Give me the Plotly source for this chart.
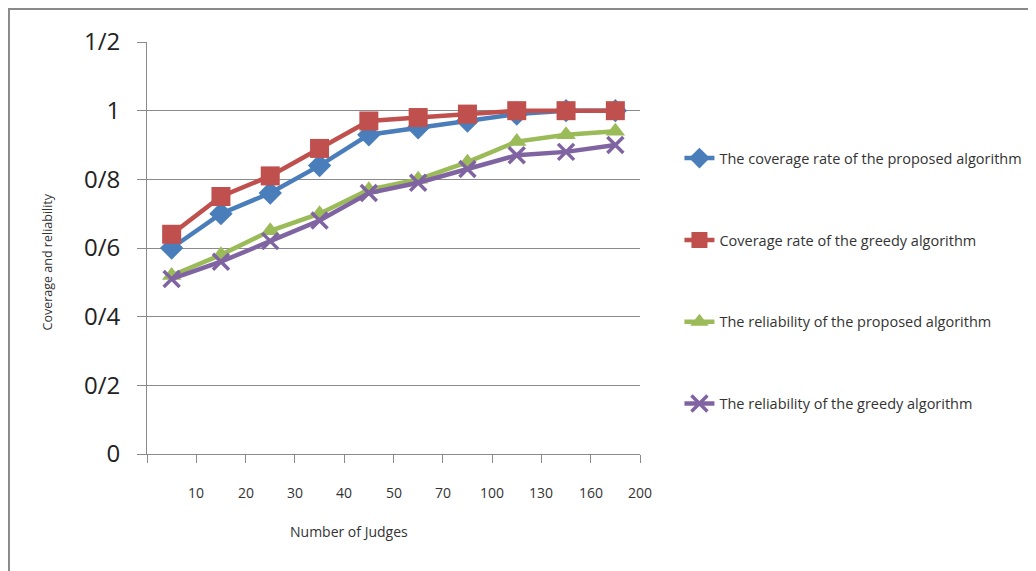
import plotly.graph_objects as go

judges = ["10", "20", "30", "40", "50", "70", "100", "130", "160", "200"]
cov_proposed = [0.60, 0.70, 0.76, 0.84, 0.93, 0.95, 0.97, 0.99, 1.00, 1.00]
cov_greedy = [0.64, 0.75, 0.81, 0.89, 0.97, 0.98, 0.99, 1.00, 1.00, 1.00]
rel_proposed = [0.52, 0.58, 0.65, 0.70, 0.77, 0.80, 0.85, 0.91, 0.93, 0.94]
rel_greedy = [0.51, 0.56, 0.62, 0.68, 0.76, 0.79, 0.83, 0.87, 0.88, 0.90]
y_ticks = [0, 0.2, 0.4, 0.6, 0.8, 1.0, 1.2]
y_tick_text = ["0", "0/2", "0/4", "0/6", "0/8", "1", "1/2"]

series = [
    ("The coverage rate of the proposed algorithm", cov_proposed, "#4A7EBB", "diamond", 18),
    ("Coverage rate of the greedy algorithm", cov_greedy, "#C0504D", "square", 19),
    ("The reliability of the proposed algorithm", rel_proposed, "#9BBB59", "triangle-up", 17),
    ("The reliability of the greedy algorithm", rel_greedy, "#8064A2", "x-thin", 16),
]

fig = go.Figure()
for i, (name, vals, color, sym, size) in enumerate(series):
    fig.add_trace(go.Scatter(
        x=judges, y=vals, name=name, mode="lines+markers", legendgroup=str(i),
        line=dict(color=color, width=4.5),
        marker=dict(symbol=sym, size=size, color=color,
                    line=dict(color=color, width=3.5 if sym == "x-thin" else 0)),
    ))

for i, lab in enumerate(judges):
    fig.add_annotation(x=i + 0.5, y=0, xref="x", yref="y", text=lab, showarrow=False,
                       yshift=-38, font=dict(size=14, color="#333"))

fig.add_annotation(x=0.41, y=0, xref="paper", yref="paper", text="Number of Judges",
                   showarrow=False, xanchor="center", yanchor="middle", yshift=-77,
                   font=dict(size=14, color="#333"))
fig.add_annotation(x=0, y=0.465, xref="paper", yref="paper", text="Coverage and reliability",
                   showarrow=False, textangle=-90, xanchor="center", yanchor="middle",
                   xshift=-100, font=dict(size=12.5, color="#333"))

fig.add_shape(type="rect", xref="paper", yref="paper", x0=-0.280, x1=2.0, y0=-1.0, y1=1.080,
              line=dict(color="#8a8a8a", width=2), fillcolor="rgba(0,0,0,0)", layer="below")

fig.update_layout(
    width=1036, height=571,
    margin=dict(l=139, r=404, t=34, b=125, autoexpand=False),
    paper_bgcolor="white", plot_bgcolor="white",
    font=dict(family="Open Sans, Noto Sans, sans-serif", color="#333"),
    showlegend=True,
    legend=dict(x=1.08, y=0.757, xanchor="left", yanchor="top", tracegroupgap=60,
                font=dict(size=14.5, color="#333"), bgcolor="rgba(0,0,0,0)"),
    xaxis=dict(
        type="category", categoryorder="array", categoryarray=judges,
        range=[-0.5, 9.5], showticklabels=False, tickson="boundaries",
        ticks="outside", ticklen=8, tickcolor="#8a8a8a",
        showline=True, linecolor="#8a8a8a", linewidth=1, showgrid=False, zeroline=False,
    ),
    yaxis=dict(
        range=[0, 1.2], tickvals=y_ticks, ticktext=y_tick_text,
        ticks="outside", ticklen=9, tickcolor="#8a8a8a", ticklabelstandoff=12,
        tickfont=dict(size=24, color="#222"),
        showline=True, linecolor="#8a8a8a", linewidth=1,
        showgrid=True, gridcolor="#8a8a8a", gridwidth=1, zeroline=False,
    ),
)

fig.write_html("out.html")
